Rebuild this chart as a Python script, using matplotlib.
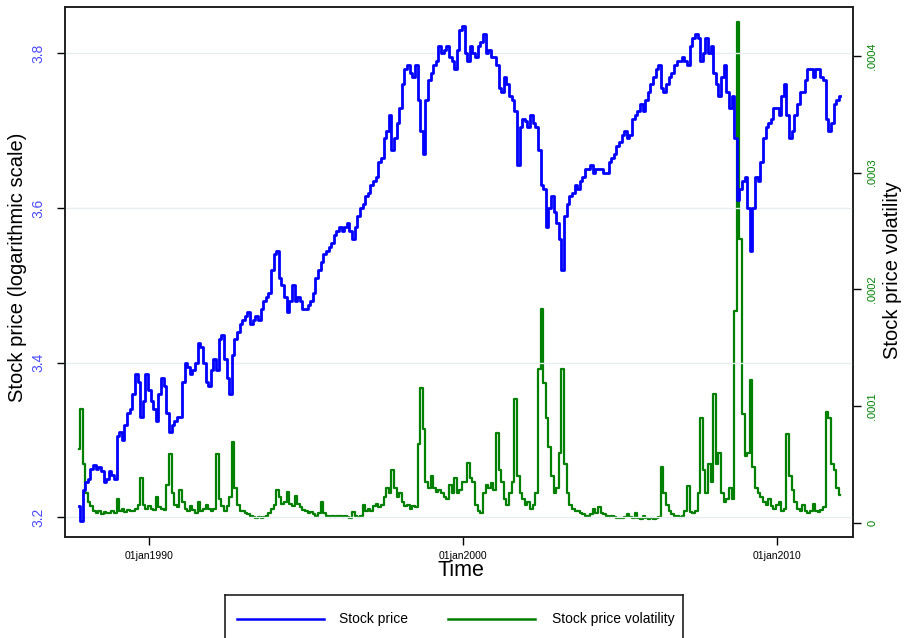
import numpy as np
import matplotlib
matplotlib.use("Agg")
import matplotlib.pyplot as plt
from matplotlib.lines import Line2D

plt.rcParams['font.family'] = ['Liberation Sans', 'DejaVu Sans']

# ---- data: monthly readings, Oct 1987 .. Jan 2012 ----
start_year, start_month = 1987, 10

price = [
    3.215, 3.195, 3.235,                                                          # 1987 Oct-Dec
    3.245, 3.25, 3.262, 3.268, 3.262, 3.265, 3.26, 3.245, 3.25, 3.26, 3.255, 3.25,  # 1988
    3.305, 3.31, 3.30, 3.32, 3.335, 3.34, 3.36, 3.385, 3.375, 3.33, 3.35, 3.385,    # 1989
    3.365, 3.35, 3.34, 3.325, 3.36, 3.38, 3.37, 3.335, 3.31, 3.32, 3.325, 3.33,     # 1990
    3.33, 3.375, 3.40, 3.395, 3.385, 3.39, 3.40, 3.425, 3.42, 3.40, 3.375, 3.37,    # 1991
    3.39, 3.405, 3.39, 3.43, 3.436, 3.405, 3.38, 3.36, 3.41, 3.43, 3.44, 3.45,      # 1992
    3.455, 3.46, 3.465, 3.45, 3.455, 3.46, 3.455, 3.47, 3.48, 3.485, 3.49, 3.52,    # 1993
    3.54, 3.545, 3.51, 3.50, 3.485, 3.465, 3.48, 3.50, 3.48, 3.485, 3.48, 3.47,     # 1994
    3.47, 3.475, 3.48, 3.49, 3.51, 3.52, 3.53, 3.54, 3.545, 3.55, 3.555, 3.565,     # 1995
    3.57, 3.575, 3.57, 3.575, 3.58, 3.57, 3.56, 3.575, 3.59, 3.60, 3.605, 3.615,    # 1996
    3.62, 3.63, 3.635, 3.64, 3.66, 3.665, 3.69, 3.70, 3.72, 3.675, 3.69, 3.71,      # 1997
    3.73, 3.76, 3.78, 3.785, 3.775, 3.77, 3.785, 3.74, 3.70, 3.67, 3.74, 3.765,     # 1998
    3.775, 3.785, 3.79, 3.81, 3.80, 3.805, 3.81, 3.795, 3.79, 3.78, 3.805, 3.83,    # 1999
    3.835, 3.80, 3.79, 3.81, 3.80, 3.795, 3.81, 3.815, 3.825, 3.80, 3.805, 3.795,   # 2000
    3.795, 3.785, 3.755, 3.75, 3.77, 3.76, 3.745, 3.74, 3.725, 3.655, 3.705, 3.715, # 2001
    3.712, 3.705, 3.72, 3.71, 3.705, 3.675, 3.63, 3.625, 3.575, 3.60, 3.615, 3.595, # 2002
    3.58, 3.56, 3.52, 3.59, 3.605, 3.615, 3.62, 3.63, 3.625, 3.635, 3.64, 3.65,     # 2003
    3.65, 3.655, 3.645, 3.65, 3.65, 3.65, 3.645, 3.645, 3.66, 3.665, 3.67, 3.68,    # 2004
    3.685, 3.695, 3.70, 3.69, 3.695, 3.715, 3.72, 3.725, 3.735, 3.725, 3.74, 3.75,  # 2005
    3.76, 3.77, 3.78, 3.785, 3.755, 3.75, 3.76, 3.77, 3.775, 3.785, 3.79, 3.79,     # 2006
    3.795, 3.79, 3.785, 3.81, 3.82, 3.825, 3.82, 3.79, 3.80, 3.82, 3.80, 3.81,      # 2007
    3.775, 3.76, 3.745, 3.77, 3.785, 3.75, 3.73, 3.745, 3.69, 3.61, 3.625, 3.635,   # 2008
    3.64, 3.60, 3.545, 3.60, 3.64, 3.635, 3.66, 3.69, 3.705, 3.71, 3.715, 3.73,     # 2009
    3.73, 3.72, 3.745, 3.76, 3.72, 3.69, 3.70, 3.72, 3.735, 3.75, 3.75, 3.765,      # 2010
    3.78, 3.78, 3.77, 3.78, 3.78, 3.77, 3.765, 3.715, 3.70, 3.71, 3.735, 3.74,      # 2011
    3.745,                                                                        # 2012 Jan
]

# volatility in units of 1e-5
volatility_e5 = [
    6.3, 9.7, 5.0,                                                   # 1987 Oct-Dec
    2.5, 1.8, 1.4, 1.0, 0.8, 1.0, 0.7, 0.9, 0.8, 0.8, 1.0, 0.8,      # 1988
    2.0, 1.0, 1.2, 0.9, 1.1, 1.0, 1.0, 1.2, 1.5, 3.8, 1.5, 1.2,      # 1989
    1.4, 1.2, 1.1, 2.2, 1.3, 1.2, 1.1, 3.2, 5.9, 2.5, 1.5, 1.3,      # 1990
    2.8, 1.8, 1.2, 1.0, 1.4, 1.1, 0.8, 1.8, 1.0, 1.2, 1.5, 1.2,      # 1991
    1.0, 1.2, 5.9, 2.0, 1.4, 1.0, 1.4, 2.2, 6.9, 3.0, 1.5, 1.0,      # 1992
    1.0, 0.8, 0.7, 0.6, 0.5, 0.4, 0.5, 0.4, 0.5, 0.6, 0.8, 1.2,      # 1993
    1.5, 2.8, 2.2, 1.6, 1.8, 2.6, 1.6, 1.4, 2.3, 1.6, 1.3, 1.1,      # 1994
    1.0, 0.8, 0.9, 0.7, 0.6, 0.8, 1.8, 0.8, 0.6, 0.5, 0.6, 0.5,      # 1995
    0.6, 0.6, 0.5, 0.6, 0.5, 0.4, 0.9, 0.6, 0.5, 0.6, 1.5, 1.0,      # 1996
    1.2, 1.0, 1.4, 1.6, 1.3, 1.5, 2.2, 3.0, 2.5, 4.5, 3.0, 2.2,      # 1997
    2.5, 1.8, 1.4, 1.5, 1.2, 1.4, 1.3, 6.7, 11.5, 8.0, 3.5, 3.0,     # 1998
    4.0, 3.0, 2.6, 2.8, 2.5, 2.2, 2.0, 3.2, 2.5, 3.8, 2.5, 2.8,      # 1999
    3.5, 3.5, 5.1, 3.8, 3.5, 1.5, 1.0, 0.8, 2.5, 3.2, 3.0, 3.4,      # 2000
    2.8, 7.7, 4.5, 3.5, 2.0, 1.5, 2.5, 3.5, 10.6, 4.0, 2.5, 2.0,     # 2001
    1.5, 1.8, 1.2, 1.5, 2.5, 13.2, 18.3, 12.0, 9.0, 6.5, 4.0, 2.5,   # 2002
    3.0, 6.0, 13.2, 5.0, 2.5, 1.5, 1.2, 1.0, 1.0, 0.8, 0.7, 0.6,     # 2003
    0.6, 0.7, 1.2, 0.8, 1.3, 0.8, 0.7, 0.6, 0.5, 0.6, 0.5, 0.4,      # 2004
    0.4, 0.4, 0.5, 0.7, 0.5, 0.4, 0.8, 0.4, 0.3, 0.6, 0.4, 0.3,      # 2005
    0.4, 0.3, 0.4, 0.5, 4.8, 2.5, 1.5, 1.0, 0.7, 0.6, 0.6, 0.5,      # 2006
    0.6, 1.0, 3.1, 0.9, 0.8, 1.0, 2.5, 9.0, 4.5, 2.5, 5.0, 3.5,      # 2007
    11.0, 5.0, 6.0, 2.5, 1.8, 2.0, 3.0, 2.0, 18.1, 42.9, 24.3, 9.3,  # 2008
    5.7, 6.0, 12.2, 4.8, 3.0, 2.5, 2.2, 1.8, 1.5, 2.0, 1.4, 1.2,     # 2009
    1.5, 1.8, 1.0, 1.2, 7.6, 4.0, 2.8, 1.8, 1.2, 1.0, 1.5, 1.0,      # 2010
    0.8, 1.0, 1.6, 1.0, 0.9, 1.1, 1.3, 9.5, 9.0, 5.0, 4.5, 3.0,      # 2011
    2.4,                                                             # 2012 Jan
]

x_tick_years = [1990, 2000, 2010]
x_tick_labels = ["01jan1990", "01jan2000", "01jan2010"]
left_ticks = [3.2, 3.4, 3.6, 3.8]
left_tick_labels = ["3.2", "3.4", "3.6", "3.8"]
right_ticks = [0, 0.0001, 0.0002, 0.0003, 0.0004]
right_tick_labels = ["0", ".0001", ".0002", ".0003", ".0004"]

# ---- derived ----
n = len(price)
t = start_year + (start_month - 1) / 12 + np.arange(n) / 12.0
vol = np.array(volatility_e5) * 1e-5

W, H = 907, 638
fig = plt.figure(figsize=(W / 100, H / 100), dpi=100)
fig.patch.set_facecolor('white')

L, R, T, B = 65, 853.3, 7, 537
ax = fig.add_axes([L / W, 1 - B / H, (R - L) / W, (B - T) / H])
ax2 = ax.twinx()

BLUE = '#0000ff'
GREEN = '#008000'

ax.set_ylim(3.1745, 3.860)
ax2.set_ylim(-1.24e-5, 0.000442)
ax.set_xlim(1987.315, 2012.42)

for yv in left_ticks:
    ax.axhline(yv, color='#e6eef0', lw=1.0, zorder=0)

ax2.plot(t, vol, color=GREEN, lw=1.6, drawstyle='steps-mid', zorder=2)
ax.plot(t, price, color=BLUE, lw=2.0, drawstyle='steps-mid', zorder=3)
ax.set_zorder(ax2.get_zorder() + 1)
ax.patch.set_visible(False)

ax.set_yticks(left_ticks)
ax.set_yticklabels(left_tick_labels, rotation=90, va='center', color='#4a4aff', fontsize=10)
ax2.set_yticks(right_ticks)
ax2.set_yticklabels(right_tick_labels, rotation=90, va='center', color=GREEN, fontsize=8)
ax.set_xticks(x_tick_years)
ax.set_xticklabels(x_tick_labels, fontsize=7.5)

ax.tick_params(axis='y', direction='out', length=6, width=1.0, pad=8)
ax2.tick_params(axis='y', direction='out', length=6, width=1.0, pad=4)
ax.tick_params(axis='x', direction='out', length=6, width=1.0, pad=4)

for a in (ax, ax2):
    for s in a.spines.values():
        s.set_linewidth(1.2)
        s.set_color('#202020')

fig.text(18 / W, 1 - 267 / H, "Stock price (logarithmic scale)", rotation=90,
         ha='center', va='center', fontsize=14.5)
fig.text(893 / W, 1 - 270 / H, "Stock price volatility", rotation=90,
         ha='center', va='center', fontsize=14.5)
fig.text(461 / W, 1 - 571 / H, "Time", ha='center', va='center', fontsize=15.5)

# legend box (partly cut by figure edge)
lax = fig.add_axes([225 / W, 1 - 646 / H, (683 - 225) / W, (646 - 595) / H])
lax.set_xlim(225, 683)
lax.set_ylim(646, 595)
lax.set_xticks([])
lax.set_yticks([])
for s in lax.spines.values():
    s.set_linewidth(1.2)
    s.set_color('#202020')
lax.add_line(Line2D([237, 324], [619, 619], color=BLUE, lw=1.8))
lax.text(339, 619, "Stock price", fontsize=10, va='center', ha='left')
lax.add_line(Line2D([448, 535], [619, 619], color=GREEN, lw=1.8))
lax.text(552, 619, "Stock price volatility", fontsize=10, va='center', ha='left')

fig.savefig("out.png", dpi=100)
